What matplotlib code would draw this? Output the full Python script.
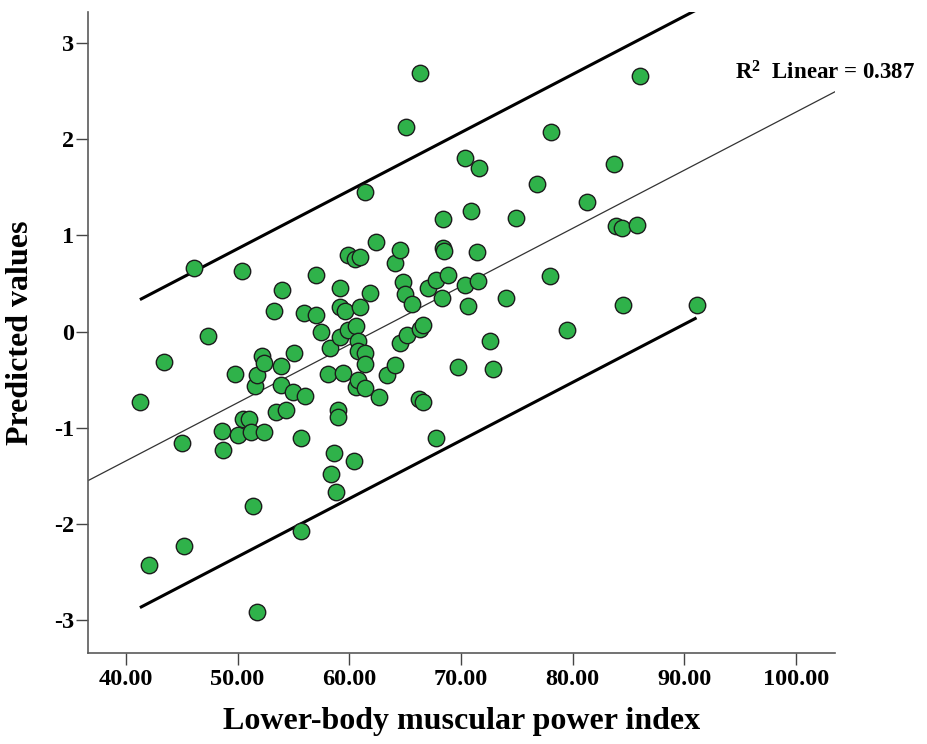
import matplotlib
matplotlib.use("Agg")
import matplotlib.pyplot as plt
import numpy as np

# ---- data ----
power_index = [41.25, 42.1, 43.4, 45.0, 45.2, 46.1, 47.35, 48.6, 48.7, 49.8,
               50.0, 50.35, 50.5, 51.0, 51.2, 51.4, 51.6, 51.75, 51.75, 52.2,
               52.4, 52.4, 53.3, 53.4, 53.9, 53.9, 54.0, 54.3, 55.05, 55.0,
               55.7, 55.7, 55.9, 56.0, 57.0, 57.0, 57.45, 58.05, 58.3, 58.4,
               58.65, 58.85, 59.0, 59.0, 59.2, 59.2, 59.2, 59.45, 59.6, 59.9,
               59.9, 60.4, 60.5, 60.6, 60.6, 60.8, 60.8, 60.8, 60.95, 61.0,
               61.45, 61.4, 61.45, 61.4, 61.9, 62.4, 62.7, 63.35, 64.1, 64.1,
               64.5, 64.5, 64.8, 65.0, 65.1, 65.15, 65.6, 66.2, 66.3, 66.3,
               66.6, 66.6, 67.05, 67.8, 67.8, 68.3, 68.4, 68.4, 68.5, 68.8,
               69.75, 70.4, 70.4, 70.6, 70.9, 71.4, 71.5, 71.6, 72.6, 72.9,
               74.0, 74.9, 76.8, 78.0, 78.1, 79.5, 81.3, 83.7, 83.9, 84.4,
               84.5, 85.8, 86.0, 91.1]
predicted = [-0.73, -2.43, -0.32, -1.16, -2.23, 0.66, -0.05, -1.03, -1.23, -0.44,
             -1.07, 0.63, -0.91, -0.91, -1.04, -1.81, -0.565, -0.45, -2.91, -0.25,
             -0.33, -1.04, 0.215, -0.84, -0.36, -0.555, 0.43, -0.82, -0.22, -0.63,
             -1.11, -2.07, 0.19, -0.665, 0.59, 0.17, -0.01, -0.44, -0.17, -1.48,
             -1.265, -1.67, -0.82, -0.885, 0.45, 0.26, -0.06, -0.43, 0.215, 0.80,
             0.015, -1.35, 0.75, 0.06, -0.58, -0.095, -0.20, -0.50, 0.77, 0.25,
             1.45, -0.225, -0.335, -0.59, 0.405, 0.935, -0.68, -0.45, 0.71, -0.345,
             0.85, -0.12, 0.51, 0.39, 2.125, -0.035, 0.285, -0.70, 2.69, 0.03,
             0.07, -0.73, 0.45, 0.54, -1.11, 0.35, 1.17, 0.87, 0.84, 0.59,
             -0.37, 1.80, 0.485, 0.27, 1.25, 0.83, 0.53, 1.70, -0.10, -0.39,
             0.35, 1.18, 1.53, 0.58, 2.07, 0.02, 1.345, 1.74, 1.10, 1.075,
             0.28, 1.11, 2.66, 0.28]

fit_slope = 0.0604
fit_intercept = -3.76
interval_halfwidth = 1.60
r2_label = r"R$^{\mathbf{2}}$  Linear = 0.387"

x_ticks = [40, 50, 60, 70, 80, 90, 100]
x_ticklabels = ["40.00", "50.00", "60.00", "70.00", "80.00", "90.00", "100.00"]
y_ticks = [-3, -2, -1, 0, 1, 2, 3]
y_ticklabels = ["-3", "-2", "-1", "0", "1", "2", "3"]

# ---- figure ----
plt.rcParams["font.family"] = ["Liberation Serif", "DejaVu Serif"]
plt.rcParams["mathtext.fontset"] = "custom"
plt.rcParams["mathtext.rm"] = "Liberation Serif:bold"
plt.rcParams["mathtext.bf"] = "Liberation Serif:bold"
plt.rcParams["mathtext.it"] = "Liberation Serif:bold:italic"

fig = plt.figure(figsize=(9.27, 7.44), dpi=100)
ax = fig.add_axes([88 / 927, 1 - 653 / 744, (835 - 88) / 927, (653 - 12) / 744])

xlim = (36.6, 103.5)
ylim = (-3.34, 3.32)
ax.set_xlim(*xlim)
ax.set_ylim(*ylim)

x = np.array(power_index)
y = np.array(predicted)

# regression line spanning full axis
xl = np.array(xlim)
ax.plot(xl, fit_slope * xl + fit_intercept, color="#333333", lw=0.9, zorder=2)

# prediction interval lines spanning data range
xr = np.array([x.min(), x.max()])
ax.plot(xr, fit_slope * xr + fit_intercept + interval_halfwidth, color="black", lw=2.2,
        zorder=2, solid_capstyle="butt")
ax.plot(xr, fit_slope * xr + fit_intercept - interval_halfwidth, color="black", lw=2.2,
        zorder=2, solid_capstyle="butt")

ax.scatter(x, y, s=140, facecolor="#2fb24a", edgecolor="#1c1c1c", linewidths=1.0, zorder=3)

ax.text((735 - 88) / 747, (653 - 79) / 641, r2_label, transform=ax.transAxes,
        fontsize=16.5, fontweight="bold", ha="left", va="baseline", clip_on=False)

ax.set_xticks(x_ticks)
ax.set_xticklabels(x_ticklabels)
ax.set_yticks(y_ticks)
ax.set_yticklabels(y_ticklabels)
for lab in ax.get_xticklabels() + ax.get_yticklabels():
    lab.set_fontsize(17.5)
    lab.set_fontweight("bold")

ax.tick_params(axis="both", direction="out", length=8.5, width=1.0, color="#444444")
ax.tick_params(axis="x", pad=3)
ax.tick_params(axis="y", pad=1.5)

for side in ("top", "right"):
    ax.spines[side].set_visible(False)
for side in ("left", "bottom"):
    ax.spines[side].set_color("#5a5a5a")
    ax.spines[side].set_linewidth(1.2)

ax.set_xlabel("Lower-body muscular power index", fontsize=23, fontweight="bold", labelpad=12)
ax.set_ylabel("Predicted values", fontsize=23, fontweight="bold", labelpad=14)

fig.savefig("out.png", dpi=100)
